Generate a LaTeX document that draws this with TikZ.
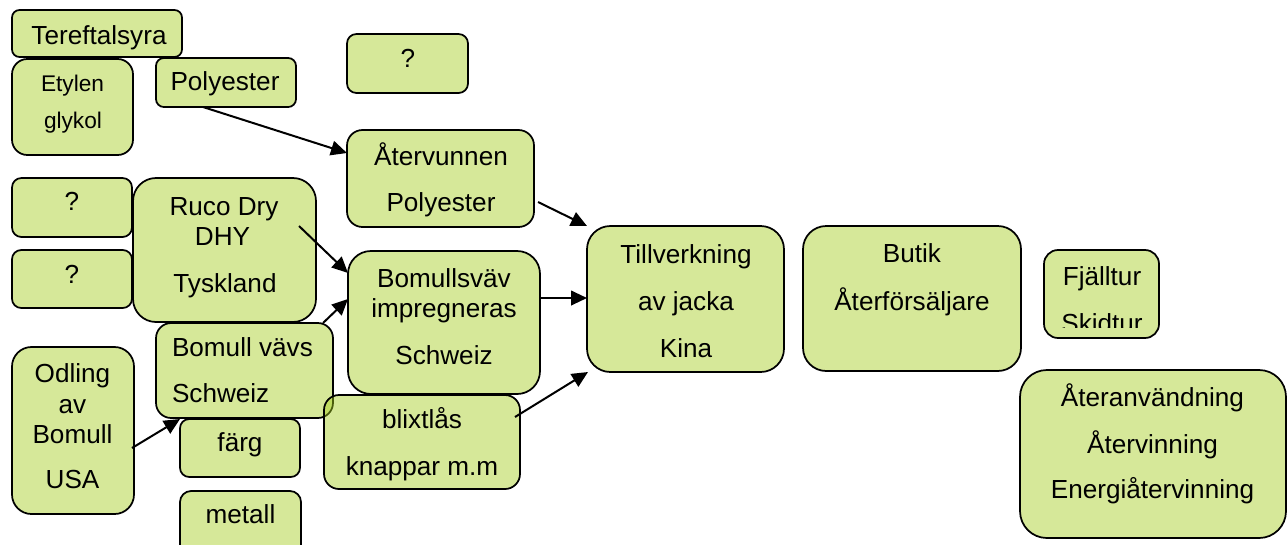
\documentclass[tikz,border=0pt]{standalone}
\usepackage{fontspec}
\setmainfont{Liberation Sans}
\usetikzlibrary{arrows.meta}
\definecolor{boxgreen}{RGB}{166,206,31}
\tikzset{
  box/.style={draw=black, line width=1.3pt, fill=boxgreen, fill opacity=0.45, inner sep=0pt, outer sep=0pt},
  txt/.style={anchor=base, inner sep=0pt, outer sep=0pt, font=\fontsize{19.6}{23}\selectfont, text=black},
  smalltxt/.style={txt, font=\fontsize{17}{20}\selectfont},
  arr/.style={line width=1.5pt, -{Triangle[length=12pt,width=11pt]}},
}
\newcommand\mybox[5]{%
  \pgfmathsetmacro\bw{(#4-#2)*0.75}%
  \pgfmathsetmacro\bh{(#5-#3)*0.75}%
  \pgfmathsetmacro\br{0.16*min(\bw,\bh)}%
  \node[box, anchor=north west, minimum width=\bw pt, minimum height=\bh pt, rounded corners=\br pt] (#1) at (#2,#3) {};}
\begin{document}
\begin{tikzpicture}[x=0.75pt, y=-0.75pt]
\clip (0,0) rectangle (1288,544);
\fill[white] (0,0) rectangle (1288,544);
% boxes
\mybox{tere}{12}{10}{182}{57}
\mybox{ety}{12}{59}{133}{155}
\mybox{poly}{156}{58}{296}{107}
\mybox{qtop}{347}{34}{468}{93}
\mybox{aterv}{347}{130}{534}{227}
\mybox{qa}{12}{178}{132}{237}
\mybox{qb}{12}{250}{132}{308}
\mybox{ruco}{133}{178}{316}{322}
\mybox{bomv}{348}{251}{540}{394}
\mybox{odl}{12}{347}{134}{514}
\mybox{bvavs}{156}{323}{333}{418}
\mybox{farg}{180}{419}{300}{477}
\mybox{met}{180}{491}{301}{560}
\mybox{blix}{324}{395}{520}{489}
\mybox{tillv}{587}{226}{784}{372}
\mybox{butik}{803}{226}{1021}{371}
\mybox{fjall}{1044}{250}{1159}{338}
\mybox{ateran}{1020}{370}{1286}{538}
% texts
\node[txt] (t1) at (99,44) {Tereftalsyra};
\node[smalltxt] (t2) at (72.5,91.5) {Etylen};
\node[smalltxt] (t3) at (73,128.5) {glykol};
\node[txt] (t4) at (225,90.5) {Polyester};
\node[txt] (t5) at (408,67.5) {?};
\node[txt] (t6) at (441,165.5) {Återvunnen};
\node[txt] (t7) at (441,211.5) {Polyester};
\node[txt] (t8) at (72,210.5) {?};
\node[txt] (t9) at (72,283.5) {?};
\node[txt] (t10) at (224,215) {Ruco Dry};
\node[txt] (t11) at (222.5,245) {DHY};
\node[txt] (t12) at (225,292) {Tyskland};
\node[txt] (t13) at (444,287) {Bomullsväv};
\node[txt] (t14) at (444,317) {impregneras};
\node[txt] (t15) at (444,364) {Schweiz};
\node[txt, anchor=base west] (t16) at (172,356.7) {Bomull vävs};
\node[txt, anchor=base west] (t17) at (172,402.7) {Schweiz};
\node[txt] (t18) at (72.5,382.5) {Odling};
\node[txt] (t19) at (72.5,413) {av};
\node[txt] (t20) at (72.5,443.5) {Bomull};
\node[txt] (t21) at (72.5,488.5) {USA};
\node[txt] (t22) at (240,451.7) {färg};
\node[txt] (t23) at (240.5,523.3) {metall};
\node[txt] (t24) at (422,428.3) {blixtlås};
\node[txt] (t25) at (422,475) {knappar m.m};
\node[txt] (t26) at (686,263) {Tillverkning};
\node[txt] (t27) at (686,310) {av jacka};
\node[txt] (t28) at (686,357) {Kina};
\node[txt] (t29) at (912,262.7) {Butik};
\node[txt] (t30) at (912,310) {Återförsäljare};
\node[txt] (t31) at (1102,285) {Fjälltur};
\begin{scope}
\clip (1044,250) rectangle (1159,327.3);
\node[txt] (t32) at (1102,332.5) {Skidtur};
\end{scope}
\node[txt] (t33) at (1152.5,406.7) {Återanvändning};
\node[txt] (t34) at (1152.5,453.3) {Återvinning};
\node[txt] (t35) at (1152.5,498) {Energiåtervinning};
% arrows
\draw[arr] ([shift={(47,0)}]poly.south west) -- ([shift={(0,23)}]aterv.north west);
\draw[arr] ([shift={(4,72)}]aterv.north east) -- (tillv.north west);
\draw[arr] ([shift={(-17,48)}]ruco.north east) -- ([shift={(0,22)}]bomv.north west);
\draw[arr] ([shift={(-10,0)}]bvavs.north east) -- ([shift={(0,48)}]bomv.north west);
\draw[arr] ([shift={(0,47)}]bomv.north east) -- ([shift={(0,72)}]tillv.north west);
\draw[arr] ([shift={(-5,22)}]blix.north east) -- ([shift={(1,0)}]tillv.south west);
\draw[arr] ([shift={(-2,101)}]odl.north east) -- (farg.north west);
\end{tikzpicture}
\end{document}
